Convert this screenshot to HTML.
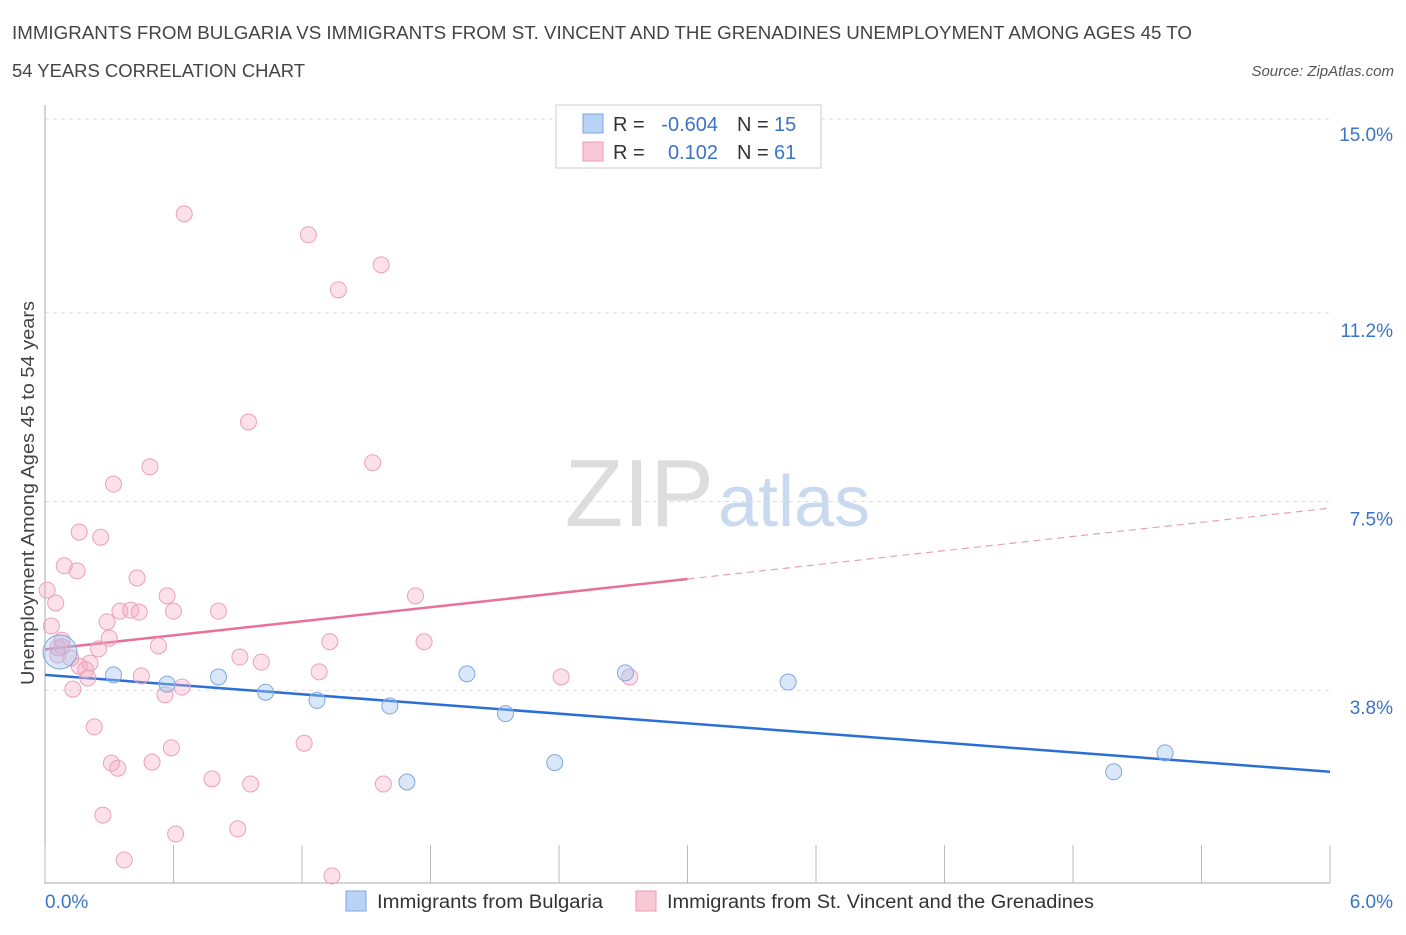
<!DOCTYPE html>
<html><head><meta charset="utf-8"><style>
body{margin:0;background:#fff;font-family:"Liberation Sans",sans-serif;}
svg text{font-family:"Liberation Sans",sans-serif;}
</style></head><body>
<svg id="chart" width="1406" height="930" xmlns="http://www.w3.org/2000/svg">
<text x="12" y="39" font-size="18" fill="#444" textLength="1180" lengthAdjust="spacingAndGlyphs">IMMIGRANTS FROM BULGARIA VS IMMIGRANTS FROM ST. VINCENT AND THE GRENADINES UNEMPLOYMENT AMONG AGES 45 TO</text>
<text x="12" y="77" font-size="18" fill="#444" textLength="293" lengthAdjust="spacingAndGlyphs">54 YEARS CORRELATION CHART</text>
<text x="1394" y="76" font-size="15" fill="#555" font-style="italic" text-anchor="end">Source: ZipAtlas.com</text>
<text x="714" y="526" font-size="96" fill="#ddd" text-anchor="end" font-family="Liberation Serif">ZIP</text>
<text x="718" y="526" font-size="72" fill="#c9daf0">atlas</text>
<g id="grid"></g>
<g id="axes"></g>
<g id="lines"></g>
<g id="pts"></g>
<text transform="translate(34,493) rotate(-90)" font-size="18" fill="#444" text-anchor="middle" textLength="384" lengthAdjust="spacingAndGlyphs">Unemployment Among Ages 45 to 54 years</text>
<text x="45" y="908" font-size="19" fill="#3b73c8">0.0%</text>
<text x="1393" y="908" font-size="19" fill="#3b73c8" text-anchor="end">6.0%</text>
<g>
<rect x="556" y="105" width="265" height="63" fill="#fff" stroke="#ccc"/>
<rect x="583" y="114" width="20" height="19" fill="#b8d3f5" stroke="#7aa7e0"/>
<rect x="583" y="142" width="20" height="19" fill="#f9c8d7" stroke="#e99ab4"/>
<text x="613" y="131" font-size="20" fill="#333">R =</text>
<text x="718" y="131" font-size="20" fill="#3b73c8" text-anchor="end">-0.604</text>
<text x="737" y="131" font-size="20" fill="#333">N =</text>
<text x="774" y="131" font-size="20" fill="#3b73c8">15</text>
<text x="613" y="159" font-size="20" fill="#333">R =</text>
<text x="718" y="159" font-size="20" fill="#3b73c8" text-anchor="end">0.102</text>
<text x="737" y="159" font-size="20" fill="#333">N =</text>
<text x="774" y="159" font-size="20" fill="#3b73c8">61</text>
</g>
<g>
<rect x="346" y="891" width="20" height="20" fill="#b8d3f5" stroke="#7aa7e0"/>
<text x="377" y="908" font-size="19" fill="#333" textLength="226" lengthAdjust="spacingAndGlyphs">Immigrants from Bulgaria</text>
<rect x="636" y="891" width="20" height="20" fill="#f9c8d7" stroke="#e99ab4"/>
<text x="667" y="908" font-size="19" fill="#333" textLength="427" lengthAdjust="spacingAndGlyphs">Immigrants from St. Vincent and the Grenadines</text>
</g>
</svg>
<script>
const yTicks=[3.8,7.5,11.2,15.0];
const yTickLabels=["3.8%","7.5%","11.2%","15.0%"];
const bulgariaX=[0.07,0.32,0.57,0.81,1.03,1.27,1.61,1.69,1.97,2.15,2.38,2.71,3.47,4.99,5.23];
const bulgariaY=[4.55,4.1,3.92,4.06,3.76,3.6,3.49,2.0,4.12,3.34,2.38,4.14,3.96,2.2,2.57];
const vincentX=[0.65,1.23,1.57,1.37,0.95,1.53,0.49,0.32,0.16,0.26,0.09,0.15,0.43,0.01,0.05,0.57,1.73,0.35,0.4,0.44,0.6,0.81,0.29,0.03,0.3,1.33,0.53,1.77,0.06,0.25,0.08,0.91,1.01,0.21,0.16,0.19,1.28,0.45,2.41,2.73,0.2,0.13,0.64,0.56,0.23,1.21,0.59,0.31,0.34,0.5,0.78,0.96,1.58,0.27,0.9,0.61,0.37,1.34,0.06,0.08,0.12];
const vincentY=[13.14,12.73,12.14,11.65,9.06,8.26,8.18,7.84,6.9,6.8,6.24,6.14,6.0,5.76,5.51,5.65,5.65,5.35,5.37,5.33,5.35,5.35,5.14,5.06,4.82,4.75,4.67,4.75,4.63,4.61,4.65,4.45,4.35,4.33,4.27,4.2,4.16,4.08,4.06,4.06,4.04,3.82,3.86,3.71,3.08,2.76,2.67,2.37,2.27,2.39,2.06,1.96,1.96,1.35,1.08,0.98,0.47,0.16,4.49,4.78,4.43];
const bulgariaFit=[4.1,2.2];
const vincentFit=[4.6,5.98,7.37];
const X=v=>45+v*214.17, Y=v=>884-v*51.0;
const NS="http://www.w3.org/2000/svg";
function mk(tag,attrs,parent){const e=document.createElementNS(NS,tag);for(const k in attrs)e.setAttribute(k,attrs[k]);document.getElementById(parent).appendChild(e);return e;}
yTicks.forEach((t,i)=>{
 const l=mk('line',{x1:45,x2:1330,y1:Y(t),y2:Y(t),stroke:'#ddd','stroke-dasharray':'4,4'},'grid');
 
 
 const tx=mk('text',{x:1393,y:Y(t)+(i==3?22:24),'font-size':19,fill:'#3b73c8','text-anchor':'end'},'grid');
 tx.textContent=yTickLabels[i];
 
 
});
const ax=mk('line',{x1:45,x2:45,y1:105,y2:884,stroke:'#aaa'},'axes');


const bx=mk('line',{x1:45,x2:1330,y1:883,y2:883,stroke:'#aaa'},'axes');


for(let i=0;i<=10;i++){const t=mk('line',{x1:X(i*0.6),x2:X(i*0.6),y1:845,y2:883,stroke:'#bbb'},'axes');
 
 }
let l1=mk('line',{x1:X(0),y1:Y(bulgariaFit[0]),x2:X(6),y2:Y(bulgariaFit[1]),stroke:'#2b6fd6','stroke-width':2.5},'lines');


let l2=mk('line',{x1:X(0),y1:Y(vincentFit[0]),x2:X(3),y2:Y(vincentFit[1]),stroke:'#e8709a','stroke-width':2.5},'lines');


let l3=mk('line',{x1:X(3),y1:Y(vincentFit[1]),x2:X(6),y2:Y(vincentFit[2]),stroke:'#e8a0b8','stroke-width':1.2,'stroke-dasharray':'7,5'},'lines');


vincentX.forEach((x,i)=>{const c=mk('circle',{cx:X(x),cy:Y(vincentY[i]),r:8,fill:'rgba(245,170,195,0.35)',stroke:'#eca0b8','stroke-width':1},'pts');
 
 });
bulgariaX.forEach((x,i)=>{const c=mk('circle',{cx:X(x),cy:Y(bulgariaY[i]),r:i==0?17:8,fill:'rgba(160,195,240,0.4)',stroke:'#7ea8e0','stroke-width':1},'pts');
 
 });
</script>
</body></html>
